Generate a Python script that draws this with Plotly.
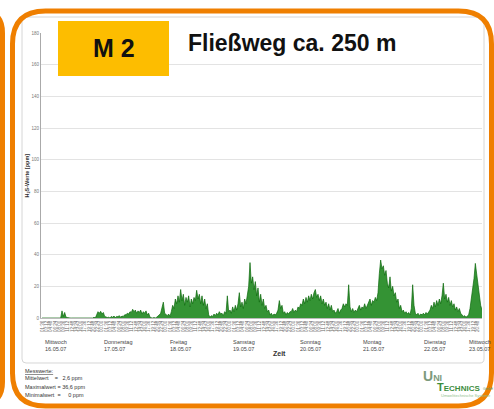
import plotly.graph_objects as go

# ---------------- data ----------------
# H2S readings (ppm), every 30 min starting 16.05.07 01:30
h2s_ppm = [
    0,
    0, 0, 0.2, 0, 0, 0, 0.3, 0, 0, 0, 0, 0.2, 0, 0,
    4.5, 1, 3.5, 0.5, 0.3, 0,
    0, 0, 0, 0.3, 0, 0, 0, 0, 0.2, 0, 0, 0, 0, 0.3, 0, 0, 0, 0, 0.5, 0,
    2, 4, 3, 4.2, 2.5, 3.5, 1, 0.5,
    0.3, 0.5, 0, 1, 0.5, 1.2, 0.3, 1, 0.8, 1.5, 0.5, 1.2, 1, 2,
    2, 3, 2.5, 4, 3.5, 5.5, 4, 5, 3, 4.5, 3.5, 5, 2.5, 4, 3, 4.5, 2, 3,
    0.5, 0.2, 0, 0.3, 0, 0.5, 1, 2,
    3, 6, 10, 3, 2, 1.5, 2.5, 1,
    4, 8, 6, 12, 9, 14, 10, 18, 11, 15, 8, 13, 10, 14, 7, 12, 9, 13,
    11, 17.5, 12, 15, 9, 14, 8, 12, 6, 9,
    2, 0.5, 1.5, 1,
    2.5, 1.5, 3, 2, 4, 2.5, 3, 1.5, 4, 3, 14, 4,
    5, 3, 7, 4, 8, 5, 9, 16, 7, 10, 6, 12, 9, 15,
    20, 35, 22, 26, 18, 23, 14, 19,
    10, 15, 8, 12,
    6, 8, 4, 5,
    2, 3, 1.5, 2.5, 2, 3,
    5, 11, 6, 8,
    3, 4, 2, 3.5, 2.5, 4,
    4, 6, 3.5, 5, 4, 7,
    6, 9, 8, 12, 9, 13, 10, 14, 11, 15, 12, 16, 18, 13, 15, 11, 14, 9, 12, 8,
    10, 6, 9, 5, 8, 4,
    5, 3, 4, 6, 3, 5, 6, 9,
    7, 9, 8, 21,
    7, 4, 6, 3.5, 5, 4,
    6, 8, 5, 7, 6, 9, 6, 8,
    9, 12, 8, 11, 10, 13, 11, 16,
    28, 36.6, 31, 33, 27, 30,
    22, 19, 26, 17, 20, 14, 16, 10,
    12, 6, 8, 4, 5, 3, 4, 2.5, 3.5, 2,
    6, 21, 8, 3,
    2, 3, 1.5, 2.5, 2, 3, 2, 3.5, 2.5, 4,
    5, 8, 6, 10, 7, 11, 8, 12, 9, 14,
    22, 12,
    15, 10, 13, 8, 11, 7, 9, 5, 7, 4, 6, 3,
    2, 1, 1.5, 0.5, 1.2, 2,
    6, 12, 18, 25, 34.5, 28, 20, 14,
    8, 5,
]
hours = [1.5 + 0.5 * i for i in range(len(h2s_ppm))]  # hours since 16.05.07 00:00

y_ticks = [0, 20, 40, 60, 80, 100, 120, 140, 160, 180]

tick_hours = [1.6 * k for k in range(1, 104)]
tick_labels = ["%02d:%02d" % (int(t % 24), int(round((t % 1) * 60)) % 60) for t in tick_hours]

day_names = ["Mittwoch", "Donnerstag", "Freitag", "Samstag", "Sonntag", "Montag", "Dienstag", "Mittwoch"]
day_dates = ["16.05.07", "17.05.07", "18.05.07", "19.05.07", "20.05.07", "21.05.07", "22.05.07", "23.05.07"]
day_label_hours = [1.9, 24.0, 48.7, 72.4, 97.5, 121.1, 144.0, 160.9]

stats_lines = ["Mittelwert\u00a0\u00a0\u00a0\u00a0=\u00a0\u00a0\u00a02,6 ppm",
               "Maximalwert = 36,6 ppm",
               "Minimalwert\u00a0\u00a0=\u00a0\u00a0\u00a0\u00a0\u00a00 ppm"]

# ---------------- geometry helpers (pixel -> paper) ----------------
W_FIG, H_FIG = 494, 409
L, R, T, B = 41, 482, 33, 318
PW, PH = R - L, B - T


def px(X):
    return (X - L) / PW


def py(Y):
    return (B - Y) / PH


def rrect(x0, y0, x1, y1, r):
    pts = [("M", [(x0 + r, y0)]), ("L", [(x1 - r, y0)]), ("Q", [(x1, y0), (x1, y0 + r)]),
           ("L", [(x1, y1 - r)]), ("Q", [(x1, y1), (x1 - r, y1)]), ("L", [(x0 + r, y1)]),
           ("Q", [(x0, y1), (x0, y1 - r)]), ("L", [(x0, y0 + r)]), ("Q", [(x0, y0), (x0 + r, y0)])]
    s = ""
    for cmd, ps in pts:
        s += cmd + " " + " ".join("%.5f,%.5f" % (px(a), py(b)) for a, b in ps) + " "
    return s + "Z"


FONT = "Liberation Sans, Arial, sans-serif"
ORANGE = "#EF7F00"

fig = go.Figure()
fig.add_trace(go.Scatter(
    x=hours, y=h2s_ppm, mode="lines", fill="tozeroy",
    line=dict(color="#0b680b", width=0.7),
    fillcolor="rgba(30,135,30,0.9)", hoverinfo="skip", showlegend=False,
))

P = dict(xref="paper", yref="paper")
shapes = [
    dict(type="path", path=rrect(22, 17, 484, 363, 4), line=dict(color="#d6d6d6", width=1),
         layer="below", **P),
    dict(type="path", path=rrect(12.5, 11, 491.5, 406, 33), line=dict(color=ORANGE, width=5), **P),
    dict(type="path", path=rrect(-60, 11, 2.5, 404, 22), line=dict(color=ORANGE, width=5), **P),
    dict(type="rect", x0=px(58), x1=px(169), y0=py(76), y1=py(21),
         fillcolor="#FDBD00", line=dict(width=0), **P),
]

ann = []


def add(X, Y, text, size, color="#333", xanchor="left", **kw):
    ann.append(dict(x=px(X), y=py(Y), text=text, showarrow=False, xanchor=xanchor,
                    yanchor=kw.pop("yanchor", "middle"),
                    font=dict(size=size, color=color, family=FONT), **P, **kw))


add(113.5, 47.5, "<b>M 2</b>", 25, "#111", xanchor="center")
add(186, 43, "<b>Fließweg ca. 250 m</b>", 23, "#111")
add(26.5, 176, "<b>H<sub>2</sub>S-Werte [ppm]</b>", 5.5, "#333", xanchor="center", textangle=-90)
add(279, 353, "<b>Zeit</b>", 7, "#333", xanchor="center")
for h, n, d in zip(day_label_hours, day_names, day_dates):
    ann.append(dict(x=h, xref="x", y=py(336.5), yref="paper", text=n + "<br>" + d, showarrow=False,
                    xanchor="left", yanchor="top", align="left",
                    font=dict(size=5.5, color="#444", family=FONT)))
add(23, 370.5, "<u>Messwerte:</u>", 5.5)
for i, s in enumerate(stats_lines):
    add(23, 378 + 8.6 * i, s, 5.5)
add(422, 376, "<b>U<span style='font-size:9px'>NI</span></b>", 14, "#7d9a7d", borderpad=0)
add(436, 387, "<b>T<span style='font-size:8px'>ECHNICS</span></b>", 11, "#3d8d3d", borderpad=0)
add(480.5, 389, "GmbH", 3.5, "#6a9a6a")
add(439, 395.5, "Umwelttechnische Systeme", 4, "#8fbf8f")

fig.update_layout(
    width=W_FIG, height=H_FIG,
    margin=dict(l=L, r=W_FIG - R, t=T, b=H_FIG - B, pad=0),
    paper_bgcolor="white", plot_bgcolor="white",
    font=dict(family=FONT),
    shapes=shapes, annotations=ann, showlegend=False,
    xaxis=dict(range=[1.125, 166.5], tickvals=tick_hours, ticktext=tick_labels, tickangle=-90,
               tickfont=dict(size=4.5, color="#666"), showgrid=False, zeroline=False,
               showline=True, linecolor="#bbbbbb", linewidth=1, ticks=""),
    yaxis=dict(range=[0, 180], tickvals=y_ticks, tickfont=dict(size=4.5, color="#777"),
               showgrid=True, gridcolor="#e3e3e3", gridwidth=1, zeroline=False,
               showline=True, linecolor="#aaaaaa", linewidth=1, ticks=""),
)

fig.write_html("out.html", config={"displayModeBar": False},
               post_script="document.body.style.margin='0';")
